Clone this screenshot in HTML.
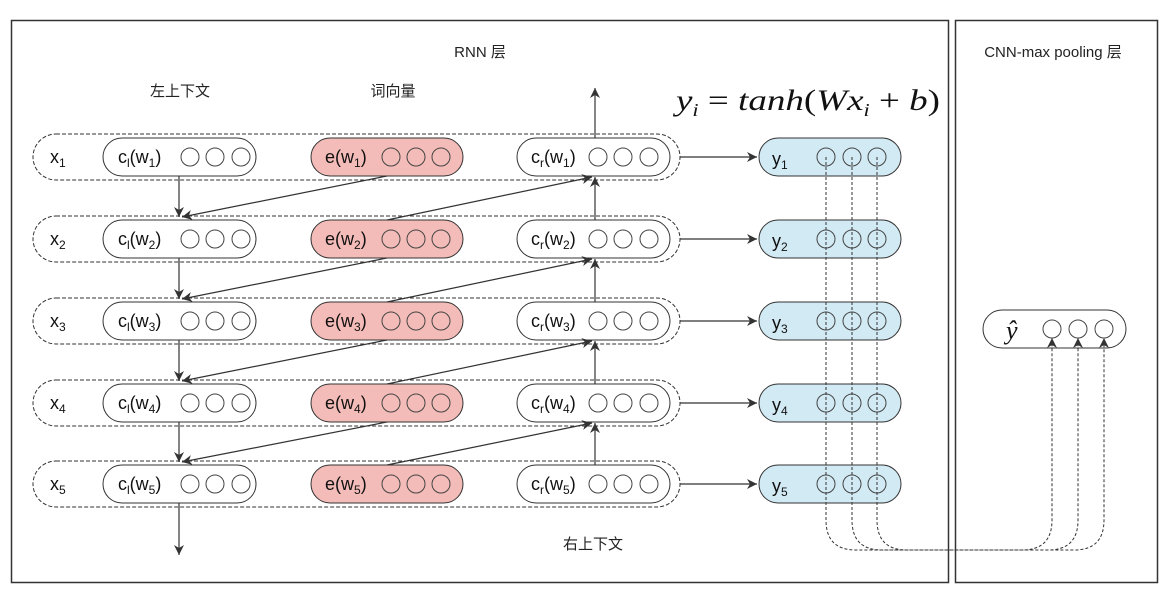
<!DOCTYPE html>
<html><head><meta charset="utf-8"><style>
html,body{margin:0;padding:0;background:#fff;width:1174px;height:604px;overflow:hidden}
svg{display:block;font-family:"Liberation Sans","Noto Sans CJK SC",sans-serif}
</style></head><body>
<svg id="s" width="1174" height="604" viewBox="0 0 1174 604" xmlns="http://www.w3.org/2000/svg">
<defs>
<marker id="ah" viewBox="0 0 10 10" refX="10" refY="5" markerWidth="10" markerHeight="10" orient="auto" markerUnits="userSpaceOnUse"><path d="M0,0 L10,5 L0,10 L3,5 Z" fill="#333"/></marker>
</defs>
<rect x="11.5" y="20.5" width="937" height="562" fill="none" stroke="#333" stroke-width="1.5"/>
<rect x="955.5" y="20.5" width="202" height="562" fill="none" stroke="#333" stroke-width="1.5"/>
<text x="480" y="57" font-size="15" text-anchor="middle" fill="#222">RNN 层</text>
<text x="1053" y="57" font-size="15" text-anchor="middle" fill="#222">CNN-max pooling 层</text>
<text x="180" y="96" font-size="15" text-anchor="middle" fill="#222">左上下文</text>
<text x="393" y="96" font-size="15" text-anchor="middle" fill="#222">词向量</text>
<text x="593" y="549" font-size="15" text-anchor="middle" fill="#222">右上下文</text>
<text x="676" y="110" font-size="30" font-style="italic" font-family="Liberation Serif, serif" textLength="264" lengthAdjust="spacingAndGlyphs" fill="#111">y<tspan font-size="18" dy="6">i</tspan><tspan dy="-6" font-style="normal"> = </tspan>tanh<tspan font-style="normal">(</tspan>Wx<tspan font-size="18" dy="6">i</tspan><tspan dy="-6" font-style="normal"> + </tspan>b<tspan font-style="normal">)</tspan></text>
<g id="g"></g>
</svg>
<script>
const rowIdx = [1,2,3,4,5];
const rowY = [157,239,321,403,484];
const circleCols = {cl:[190,215,241], e:[391,416,441], cr:[598,623,649], y:[826,852,877]};
const NS='http://www.w3.org/2000/svg';
const g=document.getElementById('g');
function mk(t,a,parent){const e=document.createElementNS(NS,t);for(const k in a)e.setAttribute(k,a[k]);(parent||g).appendChild(e);return e;}
function ln(x1,y1,x2,y2,arrow){const l=mk('line',{x1,y1,x2,y2,stroke:'#333','stroke-width':1.2});if(arrow)l.setAttribute('marker-end','url(#ah)');return l;}
// parts: array of [text, isSub]
function lbl(x,y,parts,name){const t=mk('text',{x,y,'font-size':18,fill:'#111'});
  let sub=false;
  parts.forEach(([s,isSub])=>{const sp=mk('tspan',{},t);
    if(isSub){sp.setAttribute('font-size',12);if(!sub)sp.setAttribute('dy',4);}
    else{if(sub)sp.setAttribute('dy',-4);}
    sub=isSub;sp.textContent=s;});
  return t;}
function circles(xs,y){xs.forEach(cx=>{const c=mk('circle',{cx,cy:y,r:9,fill:'none',stroke:'#444','stroke-width':1});});}
rowY.forEach((y,i)=>{
  const n=String(rowIdx[i]);
  const d=mk('rect',{x:33,y:y-23,width:647,height:46,rx:23,fill:'none',stroke:'#333','stroke-width':1,'stroke-dasharray':'4,2'});
  
  
  lbl(50,y+6,[['x',false],[n,true]],'x-label-'+n);
  const b1=mk('rect',{x:103,y:y-19,width:153,height:38,rx:19,fill:'#fff',stroke:'#333','stroke-width':1});
  
  
  lbl(118,y+6,[['c',false],['l',true],['(w',false],[n,true],[')',false]],'left-context-label-'+n);
  circles(circleCols.cl,y);
  const b2=mk('rect',{x:311,y:y-19,width:152,height:38,rx:19,fill:'#f4bcb8',stroke:'#333','stroke-width':1});
  
  
  lbl(325,y+6,[['e(w',false],[n,true],[')',false]],'embedding-label-'+n);
  circles(circleCols.e,y);
  const b3=mk('rect',{x:517,y:y-19,width:153,height:38,rx:19,fill:'#fff',stroke:'#333','stroke-width':1});
  
  
  lbl(531,y+6,[['c',false],['r',true],['(w',false],[n,true],[')',false]],'right-context-label-'+n);
  circles(circleCols.cr,y);
  const b4=mk('rect',{x:759,y:y-19,width:142,height:38,rx:19,fill:'#d2eaf4',stroke:'#333','stroke-width':1});
  
  
  lbl(772,y+8,[['y',false],[n,true]],'output-label-'+n);
  circles(circleCols.y,y);
  ln(680,y,757,y,true);
  if(i<rowY.length-1){
    const y2=rowY[i+1];
    ln(179,y+19,179,y2-22,true);
    ln(387,y+19,182,y2-22,true);
    ln(595,y2-19,595,y+20,true);
    ln(387,y2-19,592,y+20,true);
  }
});
ln(595,rowY[0]-19,595,88,true);
ln(179,rowY[4]+19,179,555,true);
const yb=mk('rect',{x:983,y:310,width:143,height:38,rx:19,fill:'#fff',stroke:'#333','stroke-width':1});


const yh=mk('text',{x:1006,y:339,'font-size':26,'font-style':'italic','font-family':'Liberation Serif, serif',fill:'#111'});yh.textContent='ŷ';


const poolX=[1052,1078,1104];
circles(poolX,329);
circleCols.y.forEach((x,k)=>{
  const px=poolX[k];
  const p=mk('path',{d:`M${x},${rowY[0]} V520 Q${x},550 ${x+30},550 H${px-30} Q${px},550 ${px},520 V338`,fill:'none',stroke:'#333','stroke-width':1,'stroke-dasharray':'3,2','marker-end':'url(#ah)'});
  
  
});
</script>
</body></html>
